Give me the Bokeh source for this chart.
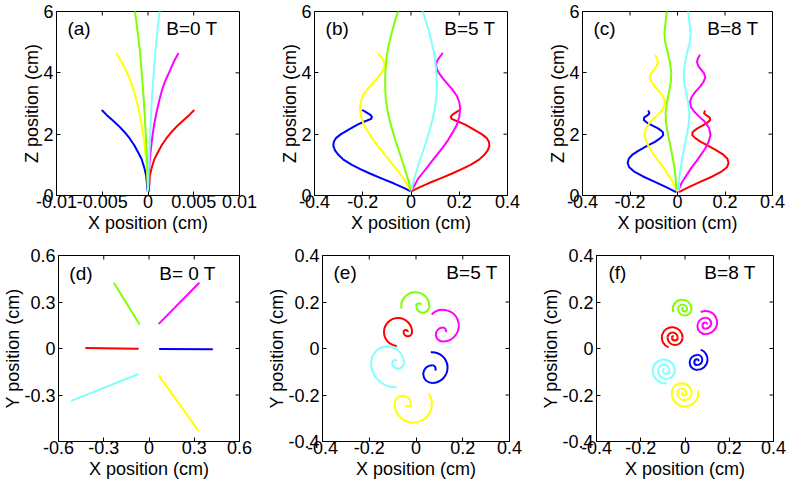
import math
from bokeh.plotting import figure
from bokeh.layouts import column, row
from bokeh.models import Range1d, FixedTicker, Label
from bokeh.embed import file_html
from bokeh.resources import INLINE

FONT = "Liberation Sans"
COL = {"blue": "#0000ff", "red": "#ff0000", "yellow": "#ffff00",
       "magenta": "#ff00ff", "green": "#80ff00", "cyan": "#80ffff"}

# ---------------- (a) B=0 T, X-Z ----------------
A_Z_BR = [0.15, 0.64, 0.9, 1.19, 1.42, 1.64, 1.86, 2.08, 2.27, 2.46, 2.62, 2.77]
A_X_BLUE = [-0.00004, -0.0002, -0.0004, -0.0007, -0.0011, -0.0015, -0.002, -0.0026, -0.0032, -0.0039, -0.0045, -0.005]
A_X_RED = [0.0001, 0.0002, 0.0004, 0.0007, 0.0011, 0.0015, 0.002, 0.0026, 0.0032, 0.0039, 0.0045, 0.005]
A_Z_YM = [0.15, 0.42, 0.8, 1.19, 1.58, 1.97, 2.35, 2.74, 3.12, 3.51, 3.8, 4.07, 4.35, 4.62]
A_X_YELLOW = [0, -0.00004, -0.0001, -0.00022, -0.00035, -0.00052, -0.00072, -0.00097, -0.00128, -0.00164, -0.002, -0.00238, -0.0029, -0.00342]
A_X_MAGENTA = [0, 0.00004, 0.0001, 0.0002, 0.00034, 0.0005, 0.0007, 0.00095, 0.00125, 0.0016, 0.00198, 0.0024, 0.0028, 0.0033]
A_Z_GC = [0.15, 0.8, 1.41, 2.2, 3.07, 3.9, 4.73, 5.35, 5.97, 6.3]
A_X_GREEN = [0, -0.00006, -0.00015, -0.00028, -0.00045, -0.00066, -0.00089, -0.00114, -0.00141, -0.0015]
A_X_CYAN = [0, 0.00006, 0.00015, 0.00027, 0.00041, 0.0006, 0.00082, 0.00103, 0.00126, 0.0014]

# ---------------- (b) B=5 T, X-Z ----------------
B_Z_BR = [0.15, 0.25, 0.39, 0.55, 0.71, 0.86, 1.0, 1.17, 1.32, 1.47, 1.62, 1.75, 1.88, 2.0, 2.14,
          2.31, 2.42, 2.5, 2.57, 2.64, 2.71, 2.78]
B_X_BLUE = [-0.005, -0.03, -0.07, -0.12, -0.168, -0.21, -0.245, -0.28, -0.3, -0.315, -0.322, -0.32, -0.31,
            -0.29, -0.26, -0.222, -0.19, -0.165, -0.162, -0.17, -0.185, -0.2]
B_X_RED = [0.005, 0.03, 0.07, 0.12, 0.168, 0.21, 0.247, 0.282, 0.303, 0.318, 0.325, 0.323, 0.313,
           0.293, 0.263, 0.225, 0.192, 0.168, 0.165, 0.172, 0.186, 0.2]
B_Z_YM = [0.2, 0.38, 0.55, 0.75, 0.95, 1.15, 1.35, 1.57, 1.8, 2.05, 2.3, 2.57, 2.85, 3.05, 3.25, 3.45,
          3.65, 3.82, 3.98, 4.12, 4.25, 4.37, 4.47, 4.63]
B_X_YELLOW = [-0.005, -0.018, -0.03, -0.05, -0.07, -0.09, -0.11, -0.133, -0.155, -0.176, -0.195, -0.207,
              -0.212, -0.208, -0.2, -0.182, -0.16, -0.14, -0.125, -0.113, -0.11, -0.113, -0.12, -0.135]
B_X_MAGENTA = [0.005, 0.018, 0.03, 0.05, 0.07, 0.09, 0.11, 0.132, 0.153, 0.172, 0.19, 0.2,
               0.204, 0.2, 0.19, 0.172, 0.15, 0.132, 0.117, 0.107, 0.104, 0.107, 0.115, 0.13]
B_Z_GC = [0.2, 0.4, 0.6, 0.85, 1.1, 1.45, 1.8, 2.15, 2.5, 2.85, 3.2, 3.55, 3.9, 4.25, 4.6, 4.95, 5.3,
          5.65, 5.97, 6.2]
B_X_GREEN = [-0.003, -0.008, -0.015, -0.025, -0.035, -0.05, -0.065, -0.078, -0.09, -0.099, -0.105,
             -0.107, -0.107, -0.104, -0.1, -0.091, -0.08, -0.068, -0.055, -0.045]
B_X_CYAN = [0.003, 0.008, 0.015, 0.025, 0.035, 0.05, 0.065, 0.078, 0.09, 0.099, 0.105,
            0.107, 0.106, 0.102, 0.097, 0.087, 0.076, 0.063, 0.05, 0.04]

# ---------------- (c) B=8 T, X-Z ----------------
C_Z_BR = [0.12, 0.28, 0.46, 0.62, 0.79, 0.92, 1.06, 1.2, 1.33, 1.48, 1.62, 1.75, 1.87, 1.97, 2.07,
          2.18, 2.28, 2.37, 2.46, 2.55, 2.62, 2.68, 2.75]
C_X_BLUE = [-0.008, -0.05, -0.1, -0.145, -0.184, -0.203, -0.21, -0.205, -0.19, -0.16, -0.128, -0.095,
            -0.072, -0.06, -0.062, -0.08, -0.105, -0.128, -0.142, -0.14, -0.125, -0.118, -0.122]
C_X_RED = [0.008, 0.05, 0.1, 0.147, 0.187, 0.208, 0.215, 0.21, 0.193, 0.162, 0.13, 0.098,
           0.075, 0.062, 0.064, 0.082, 0.105, 0.125, 0.138, 0.135, 0.12, 0.112, 0.115]
C_Z_YM = [0.2, 0.45, 0.68, 0.9, 1.12, 1.34, 1.55, 1.77, 1.98, 2.2, 2.41, 2.58, 2.74, 2.9, 3.06, 3.22,
          3.38, 3.55, 3.71, 3.85, 3.98, 4.1, 4.22, 4.35, 4.45, 4.57]
C_X_YELLOW = [-0.005, -0.02, -0.04, -0.058, -0.08, -0.1, -0.118, -0.132, -0.139, -0.133, -0.114, -0.09,
              -0.07, -0.056, -0.053, -0.06, -0.075, -0.095, -0.11, -0.117, -0.112, -0.1, -0.088, -0.082,
              -0.085, -0.093]
C_X_MAGENTA = [0.005, 0.02, 0.04, 0.058, 0.08, 0.1, 0.118, 0.132, 0.139, 0.133, 0.114, 0.09,
               0.07, 0.056, 0.053, 0.06, 0.075, 0.095, 0.11, 0.117, 0.112, 0.1, 0.088, 0.082,
               0.085, 0.093]
C_Z_GC = [0.2, 0.6, 1.0, 1.5, 2.0, 2.35, 2.7, 3.05, 3.4, 3.7, 4.0, 4.35, 4.7, 5.0, 5.3, 5.65, 6.0, 6.3]
C_X_GREEN = [-0.005, -0.008, -0.015, -0.027, -0.04, -0.048, -0.05, -0.044, -0.035, -0.028, -0.026,
             -0.032, -0.042, -0.052, -0.055, -0.05, -0.045, -0.04]
C_X_CYAN = [0.005, 0.008, 0.015, 0.027, 0.04, 0.048, 0.05, 0.044, 0.035, 0.028, 0.026,
            0.032, 0.042, 0.052, 0.055, 0.05, 0.045, 0.04]

# ---------------- (d) B=0 T, X-Y (straight segments) ----------------
D_SEGMENTS = {
    "red":     ([-0.417, -0.074], [0.003, -0.002]),
    "blue":    ([0.072, 0.418], [-0.003, -0.005]),
    "green":   ([-0.231, -0.065], [0.421, 0.16]),
    "magenta": ([0.068, 0.33], [0.162, 0.421]),
    "cyan":    ([-0.511, -0.074], [-0.336, -0.166]),
    "yellow":  ([0.068, 0.326], [-0.178, -0.528]),
}

# ---------------- (e) B=5 T spirals: arcs (cx, cy, r, start_deg, end_deg), clockwise ----------------
E_SPIRALS = {
    "green":   [(-0.003, 0.182, 0.060, 190, 0), (0.029, 0.182, 0.028, 0, 180), (0.013, 0.182, 0.012, 180, 30)],
    "magenta": [(0.115, 0.098, 0.068, 135, -90), (0.115, 0.060, 0.030, -90, 90), (0.115, 0.077, 0.013, 90, -30)],
    "red":     [(-0.077, 0.071, 0.060, -95, 0), (-0.035, 0.071, 0.018, 0, 180), (-0.044, 0.071, 0.009, 180, 0)],
    "cyan":    [(-0.088, -0.062, 0.104, -87, 180), (-0.122, -0.062, 0.070, 180, 0),
                (-0.077, -0.062, 0.025, 0, 180), (-0.090, -0.062, 0.012, 180, 45)],
    "blue":    [(0.069, -0.082, 0.066, 95, -90), (0.069, -0.110, 0.038, -90, 90), (0.069, -0.087, 0.015, 90, -30)],
    "yellow":  [(-0.012, -0.238, 0.080, 35, 180), (-0.057, -0.238, 0.035, 180, 0), (-0.034, -0.238, 0.012, 0, 210)],
}

# ---------------- (f) B=8 T spirals ----------------
F_SPIRALS = {
    "green":   [(-0.013, 0.170, 0.042, 200, 0), (-0.001, 0.170, 0.030, 0, 180), (-0.011, 0.170, 0.020, 180, 0),
                (-0.002, 0.170, 0.011, 0, 180), (-0.008, 0.170, 0.005, 180, 60)],
    "magenta": [(0.093, 0.112, 0.052, 115, -90), (0.093, 0.097, 0.037, -90, 90), (0.093, 0.109, 0.025, 90, -90),
                (0.093, 0.098, 0.014, -90, 90), (0.093, 0.106, 0.006, 90, -30)],
    "red":     [(-0.058, 0.047, 0.047, -110, 0), (-0.045, 0.047, 0.034, 0, 180), (-0.056, 0.047, 0.023, 180, 0),
                (-0.046, 0.047, 0.013, 0, 180), (-0.053, 0.047, 0.006, 180, 60)],
    "blue":    [(0.055, -0.047, 0.047, 70, -90), (0.055, -0.060, 0.034, -90, 90), (0.055, -0.049, 0.023, 90, -90),
                (0.055, -0.059, 0.013, -90, 90), (0.055, -0.052, 0.006, 90, -30)],
    "cyan":    [(-0.088, -0.095, 0.058, -85, 180), (-0.096, -0.095, 0.050, 180, 0), (-0.084, -0.095, 0.038, 0, 180),
                (-0.096, -0.095, 0.026, 180, 0), (-0.085, -0.095, 0.015, 0, 180), (-0.093, -0.095, 0.007, 180, 90)],
    "yellow":  [(0.000, -0.192, 0.060, 12, 180), (-0.015, -0.192, 0.045, 180, 0), (-0.002, -0.192, 0.032, 0, 180),
                (-0.014, -0.192, 0.020, 180, 0), (-0.004, -0.192, 0.010, 0, 180), (-0.010, -0.192, 0.004, 180, 60)],
}

# ---------------- axes / tick labels ----------------
X_TICKS_A = [-0.01, -0.005, 0, 0.005, 0.01]
X_LABELS_A = ["-0.01", "-0.005", "0", "0.005", "0.01"]
X_TICKS_BC = [-0.4, -0.2, 0, 0.2, 0.4]
X_LABELS_BC = ["-0.4", "-0.2", "0", "0.2", "0.4"]
Z_TICKS = [0, 2, 4, 6]
Z_LABELS = ["0", "2", "4", "6"]
D_X_TICKS = [-0.6, -0.3, 0, 0.3, 0.6]
D_X_LABELS = ["-0.6", "-0.3", "0", "0.3", "0.6"]
D_Y_TICKS = [-0.3, 0, 0.3, 0.6]
D_Y_LABELS = ["-0.3", "0", "0.3", "0.6"]
EF_TICKS = [-0.4, -0.2, 0, 0.2, 0.4]
EF_LABELS = ["-0.4", "-0.2", "0", "0.2", "0.4"]


def make_fig(width, height, bl, br, bt, bb, xr, yr, xt, xl, yt, yl, xlabel, ylabel):
    p = figure(width=width, height=height, x_range=Range1d(*xr), y_range=Range1d(*yr),
               toolbar_location=None, output_backend="svg",
               min_border_left=bl, min_border_right=br, min_border_top=bt, min_border_bottom=bb)
    p.xgrid.visible = False
    p.ygrid.visible = False
    p.outline_line_color = "black"
    p.outline_line_width = 1
    p.outline_line_alpha = 1
    p.background_fill_color = "white"
    p.border_fill_color = "white"

    for ax, ticks, labels, lab in ((p.xaxis[0], xt, xl, xlabel), (p.yaxis[0], yt, yl, ylabel)):
        ax.ticker = FixedTicker(ticks=ticks)
        ax.major_label_overrides = {float(t): s for t, s in zip(ticks, labels)}
        ax.major_tick_in = 4
        ax.major_tick_out = 0
        ax.minor_tick_line_color = None
        ax.major_tick_line_color = "black"
        ax.axis_line_color = "black"
        ax.major_label_text_font = FONT
        ax.major_label_text_font_size = "18px"
        ax.major_label_text_color = "black"
        ax.axis_label = lab
        ax.axis_label_text_font = FONT
        ax.axis_label_text_font_size = "18px"
        ax.axis_label_text_font_style = "normal"
        ax.axis_label_text_color = "black"
    p.xaxis[0].major_label_standoff = -1
    p.xaxis[0].axis_label_standoff = 2
    p.yaxis[0].major_label_standoff = 3
    p.yaxis[0].axis_label_standoff = -2

    # inner tick marks on the top and right sides of the box
    xin = [t for t in xt if xr[0] < t < xr[1]]
    yin = [t for t in yt if yr[0] < t < yr[1]]
    p.scatter(x=xin, y=[yr[1]] * len(xin), marker="dash", size=8, angle=math.pi / 2,
              line_color="black", line_width=1)
    p.scatter(x=[xr[1]] * len(yin), y=yin, marker="dash", size=8,
              line_color="black", line_width=1)
    return p


def add_tags(p, left_txt, right_txt, xl, xr_, y):
    p.add_layout(Label(x=xl, y=y, text=left_txt, text_font=FONT, text_font_size="19px",
                       text_baseline="middle", text_align="left", text_color="black"))
    p.add_layout(Label(x=xr_, y=y, text=right_txt, text_font=FONT, text_font_size="19px",
                       text_baseline="middle", text_align="right", text_color="black"))


def lines(p, series):
    for xs, ys, c in series:
        p.line(xs, ys, line_color=COL[c], line_width=2, line_join="round", line_cap="round")


def spirals(p, data):
    for c, arcs in data.items():
        p.arc(x=[a[0] for a in arcs], y=[a[1] for a in arcs], radius=[a[2] for a in arcs],
              start_angle=[math.radians(a[3]) for a in arcs],
              end_angle=[math.radians(a[4]) for a in arcs],
              direction="clock", line_color=COL[c], line_width=2)


H1 = 11 + 184 + 40
H2 = 20 + 186 + 40

pa = make_fig(56 + 183 + 20, H1, 56, 20, 11, 40, (-0.01, 0.01), (0, 6),
              X_TICKS_A, X_LABELS_A, Z_TICKS, Z_LABELS, "X position (cm)", "Z position (cm)")
lines(pa, [(A_X_BLUE, A_Z_BR, "blue"), (A_X_RED, A_Z_BR, "red"),
           (A_X_YELLOW, A_Z_YM, "yellow"), (A_X_MAGENTA, A_Z_YM, "magenta"),
           (A_X_GREEN, A_Z_GC, "green"), (A_X_CYAN, A_Z_GC, "cyan")])
add_tags(pa, "(a)", "B=0 T", -0.0088, 0.0076, 5.45)

pb = make_fig(55 + 193 + 20, H1, 55, 20, 11, 40, (-0.4, 0.4), (0, 6),
              X_TICKS_BC, X_LABELS_BC, Z_TICKS, Z_LABELS, "X position (cm)", "Z position (cm)")
lines(pb, [(B_X_BLUE, B_Z_BR, "blue"), (B_X_RED, B_Z_BR, "red"),
           (B_X_YELLOW, B_Z_YM, "yellow"), (B_X_MAGENTA, B_Z_YM, "magenta"),
           (B_X_GREEN, B_Z_GC, "green"), (B_X_CYAN, B_Z_GC, "cyan")])
add_tags(pb, "(b)", "B=5 T", -0.354, 0.35, 5.45)

pc = make_fig(55 + 190 + 15, H1, 55, 15, 11, 40, (-0.4, 0.4), (0, 6),
              X_TICKS_BC, X_LABELS_BC, Z_TICKS, Z_LABELS, "X position (cm)", "Z position (cm)")
lines(pc, [(C_X_BLUE, C_Z_BR, "blue"), (C_X_RED, C_Z_BR, "red"),
           (C_X_YELLOW, C_Z_YM, "yellow"), (C_X_MAGENTA, C_Z_YM, "magenta"),
           (C_X_GREEN, C_Z_GC, "green"), (C_X_CYAN, C_Z_GC, "cyan")])
add_tags(pc, "(c)", "B=8 T", -0.354, 0.341, 5.45)

pd = make_fig(56 + 183 + 20, H2, 56, 20, 20, 40, (-0.6, 0.6), (-0.6, 0.6),
              D_X_TICKS, D_X_LABELS, D_Y_TICKS, D_Y_LABELS, "X position (cm)", "Y position (cm)")
lines(pd, [(xs, ys, c) for c, (xs, ys) in D_SEGMENTS.items()])
add_tags(pd, "(d)", "B= 0 T", -0.528, 0.443, 0.487)

pe = make_fig(63 + 187 + 20, H2, 63, 20, 20, 40, (-0.4, 0.4), (-0.4, 0.4),
              EF_TICKS, EF_LABELS, EF_TICKS, EF_LABELS, "X position (cm)", "Y position (cm)")
spirals(pe, E_SPIRALS)
add_tags(pe, "(e)", "B=5 T", -0.353, 0.349, 0.325)

pf = make_fig(67 + 177 + 14, H2, 67, 14, 20, 40, (-0.4, 0.4), (-0.4, 0.4),
              EF_TICKS, EF_LABELS, EF_TICKS, EF_LABELS, "X position (cm)", "Y position (cm)")
spirals(pf, F_SPIRALS)
add_tags(pf, "(f)", "B=8 T", -0.346, 0.319, 0.325)

layout = column(row(pa, pb, pc), row(pd, pe, pf))

with open("out.html", "w") as fh:
    fh.write(file_html(layout, INLINE))
